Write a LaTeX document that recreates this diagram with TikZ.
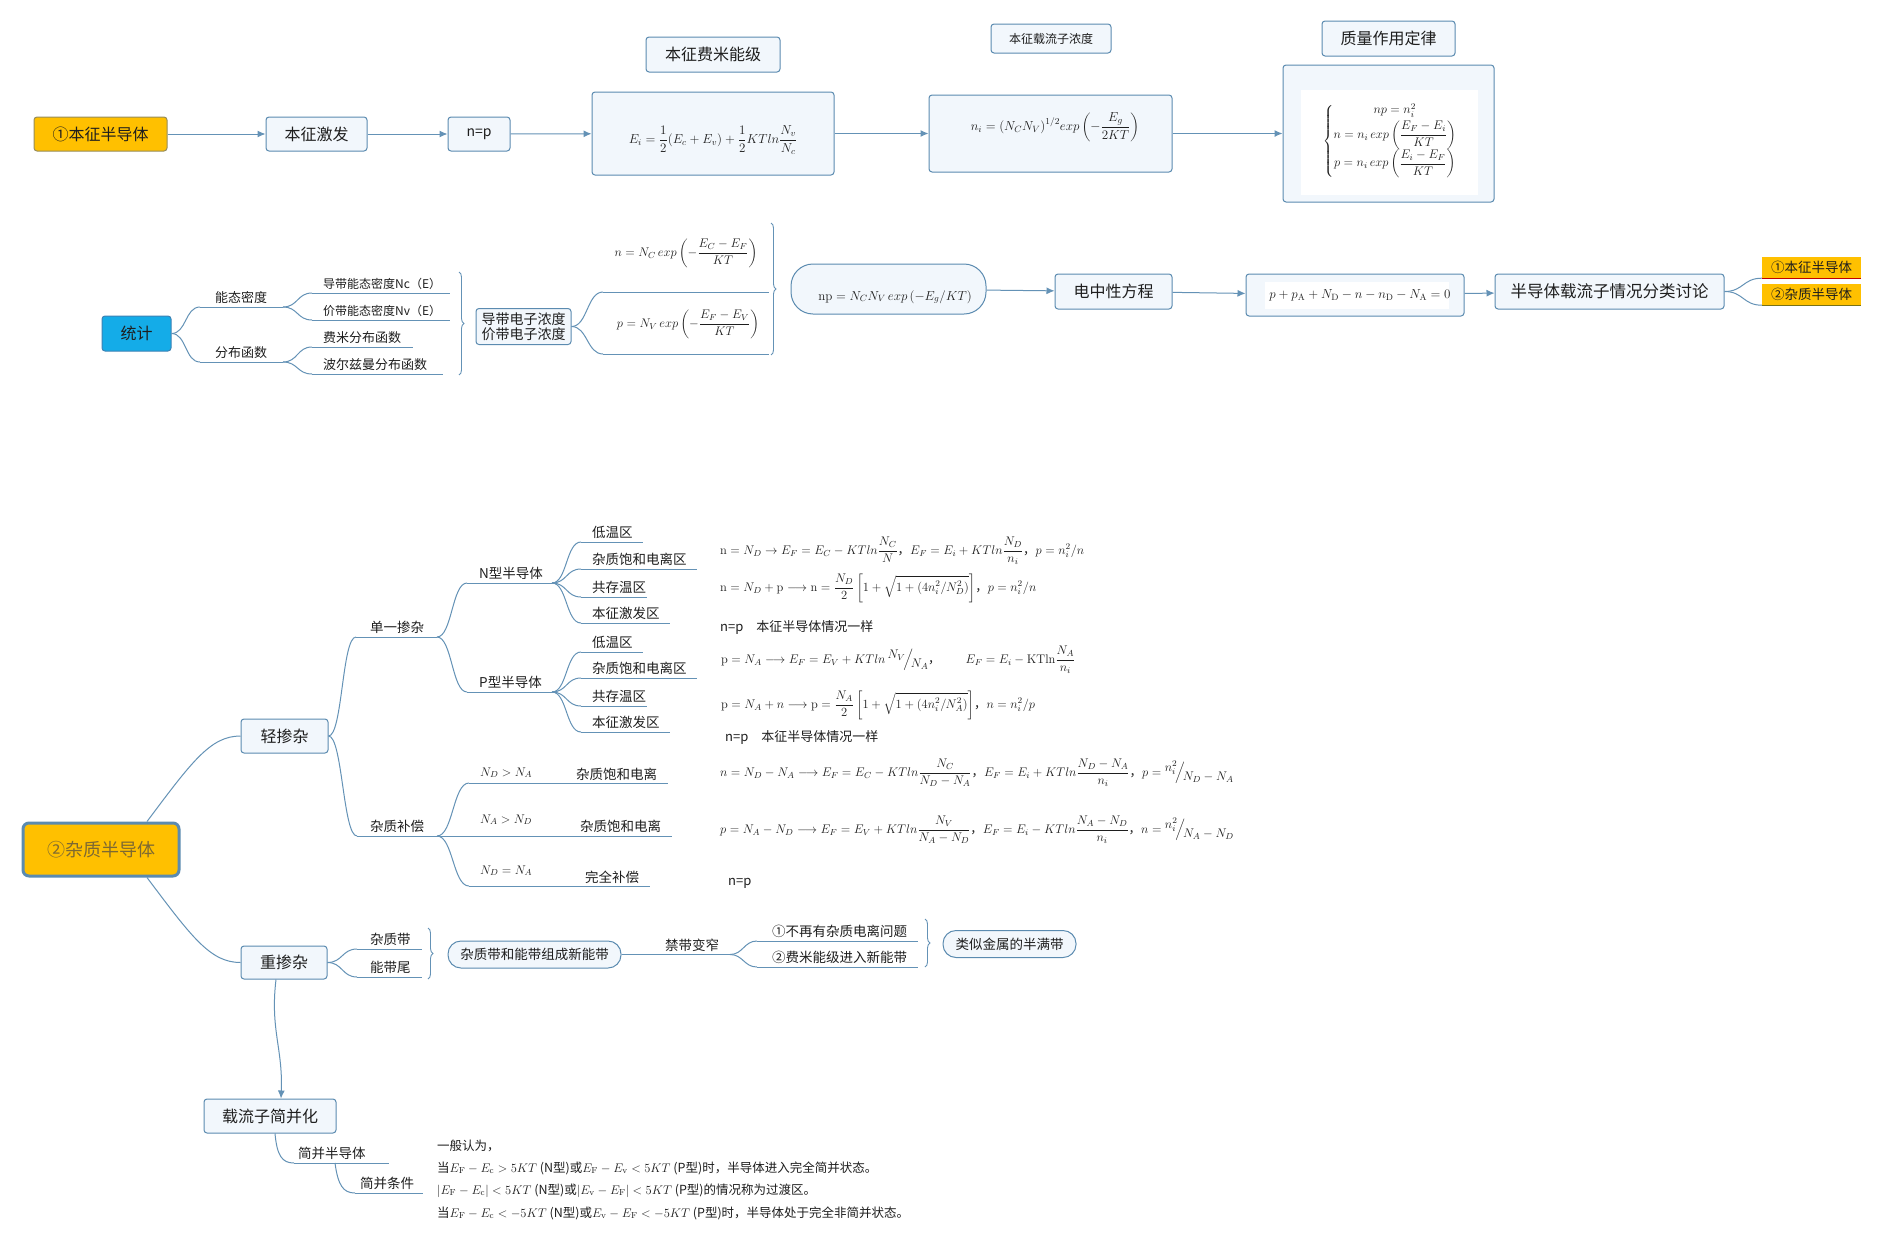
\RequirePackage{fix-cm}
\documentclass[tikz,border=0pt]{standalone}
\usepackage{amsmath}
\usepackage[no-math]{fontspec}
\setmainfont{Noto Sans CJK SC}
\usetikzlibrary{arrows.meta,decorations.pathreplacing}
\definecolor{bord}{RGB}{91,139,176}
\definecolor{boxfill}{RGB}{242,247,252}
\definecolor{linec}{RGB}{100,146,182}
\definecolor{orng}{RGB}{255,192,0}
\definecolor{orngbd}{RGB}{150,140,90}
\definecolor{cyanb}{RGB}{20,172,232}
\definecolor{cyanbd}{RGB}{60,130,180}
\definecolor{txt}{RGB}{30,30,30}
\definecolor{zhtxt}{RGB}{125,105,50}
\newcommand\fsz[1]{\fontsize{#1}{#1}\selectfont}
\newcommand\slfr[2]{\raisebox{5pt}{$#1$}\!\Big/\!\raisebox{-4pt}{$#2$}}
\tikzset{
  box/.style={draw=bord, fill=boxfill, line width=1pt, rounded corners=3pt, inner sep=0pt, text=txt},
  conn/.style={draw=linec, line width=1pt},
  arr/.style={conn, -{Latex[length=8pt,width=7pt]}},
  lbl/.style={inner sep=0pt, text=txt},
  brc/.style={draw=linec, line width=0.9pt, decorate, decoration={brace, amplitude=5pt}},
}
\newcommand\ulb[7]{%
  \coordinate (#1s) at (#2,#4);
  \coordinate (#1e) at (#3,#4);
  \node[lbl,anchor=base west,font=\fsz{#6}] (#1) at (#5,#4-5) {#7};
  \draw[conn] (#1s) -- (#1e);}
\newcommand\scrv[3]{\draw[conn] (#1) .. controls +(#3,0) and +(-#3,0) .. (#2);}
\begin{document}
\begin{tikzpicture}[x=1pt,y=-1pt]
\fill[white] (0,0) rectangle (1881,1245);
\useasboundingbox (0,0) rectangle (1881,1245);

% ---------- top row ----------
\node[box, draw=orngbd, fill=orng, minimum width=133pt, minimum height=34pt] (t1) at (100.5,134) {\fsz{16}①本征半导体};
\node[box, minimum width=101pt, minimum height=34pt] (t2) at (316.5,134) {\fsz{16}本征激发};
\node[box, minimum width=62pt, minimum height=34pt] (t3) at (479,134) {\fsz{14}n=p};
\node[box, minimum width=242pt, minimum height=83pt] (t4) at (713,133.5) {};
\node[lbl] (t4f) at (713,140) {\fsz{13}$\displaystyle E_i=\frac{1}{2}(E_c+E_v)+\frac{1}{2}KTln\frac{N_v}{N_c}$};
\node[box, minimum width=134pt, minimum height=35pt] (t4l) at (713,54.5) {\fsz{16}本征费米能级};
\node[box, minimum width=243pt, minimum height=77pt] (t5) at (1050.5,133.5) {};
\node[lbl] (t5f) at (1055,127) {\fsz{13}$\displaystyle n_i=(N_CN_V)^{1/2}exp\left(-\frac{E_g}{2KT}\right)$};
\node[box, minimum width=120pt, minimum height=29pt] (t5l) at (1051,38.5) {\fsz{12}本征载流子浓度};
\node[box, minimum width=211pt, minimum height=137pt] (t6) at (1388.5,133.5) {};
\node[fill=white, inner sep=0pt, minimum width=177pt, minimum height=105pt] (t6i) at (1389.5,142.5) {};
\node[lbl] (t6f) at (1390,141) {\fsz{12.5}$\displaystyle\left\{\begin{array}{@{}c@{}} np=n_i^2\\[3pt] n=n_i\,exp\left(\dfrac{E_F-E_i}{KT}\right)\\[3pt] p=n_i\,exp\left(\dfrac{E_i-E_F}{KT}\right)\end{array}\right.$};
\node[box, minimum width=133pt, minimum height=35pt] (t6l) at (1388.5,38.5) {\fsz{16}质量作用定律};
\draw[arr] (t1) -- (t2);
\draw[arr] (t2) -- (t3);
\draw[arr] (t3) -- (t4);
\draw[arr] (t4) -- (t5);
\draw[arr] (t5) -- (t6);

% ---------- second row ----------
\node[box, draw=cyanbd, fill=cyanb, minimum width=69pt, minimum height=35pt] (s1) at (136.5,333.5) {\fsz{16}统计};
\ulb{nd}{200}{283}{307}{215}{13}{能态密度}
\ulb{fb}{200}{283}{362}{215}{13}{分布函数}
\ulb{dd}{312}{450}{293}{323}{12}{导带能态密度Nc（E）}
\ulb{jd}{312}{450}{320}{323}{12}{价带能态密度Nv（E）}
\ulb{fm}{312}{413}{347}{323}{13}{费米分布函数}
\ulb{bz}{312}{443}{374}{323}{13}{波尔兹曼分布函数}
\scrv{s1.east}{nds}{15}
\scrv{s1.east}{fbs}{15}
\scrv{nde}{dds}{15}
\scrv{nde}{jds}{15}
\scrv{fbe}{fms}{15}
\scrv{fbe}{bzs}{15}
\draw[brc] (459,272) -- (459,375);
\node[box, align=center, font=\fontsize{14}{15.5}\selectfont, minimum width=95pt, minimum height=36pt] (s2) at (523.5,326.5) {导带电子浓度\\价带电子浓度};
\coordinate (nfs) at (603,292); \coordinate (nfe) at (769,292);
\coordinate (pfs) at (603,354); \coordinate (pfe) at (769,354);
\draw[conn] (nfs) -- (nfe);
\draw[conn] (pfs) -- (pfe);
\scrv{s2.east}{nfs}{16}
\scrv{s2.east}{pfs}{16}
\node[lbl] (nf) at (686,253) {\fsz{12.5}$\displaystyle n=N_C\,exp\left(-\frac{E_C-E_F}{KT}\right)$};
\node[lbl] (pf) at (688,324) {\fsz{12.5}$\displaystyle p=N_V\,exp\left(-\frac{E_F-E_V}{KT}\right)$};
\draw[brc] (771,223) -- (771,355);
\node[box, rounded corners=22pt, minimum width=195pt, minimum height=50pt] (np) at (888.5,289) {};
\node[lbl] (npf) at (895,297) {\fsz{13}$\mathrm{np}=N_CN_V\,exp\left(-E_g/KT\right)$};
\node[box, minimum width=117pt, minimum height=35pt] (e1) at (1113.5,291.5) {\fsz{16}电中性方程};
\node[box, minimum width=218pt, minimum height=42pt] (e2) at (1355,295) {};
\node[fill=white, inner sep=0pt, minimum width=184pt, minimum height=27pt] (e2i) at (1357,295.5) {};
\node[lbl] (e2f) at (1360,295) {\fsz{13}$p+p_\mathrm{A}+N_\mathrm{D}-n-n_\mathrm{D}-N_\mathrm{A}=0$};
\node[box, minimum width=229pt, minimum height=35pt] (e3) at (1609.5,291.5) {\fsz{16.5}半导体载流子情况分类讨论};
\draw[arr] (np) -- (e1);
\draw[arr] (e1) -- (e2);
\draw[arr] (e2) -- (e3);
\node[fill=orng, inner sep=0pt, minimum width=99pt, minimum height=21pt, text=txt] (o1) at (1811.5,267.5) {\fsz{13.5}①本征半导体};
\node[fill=orng, inner sep=0pt, minimum width=99pt, minimum height=21pt, text=txt] (o2) at (1811.5,294.5) {\fsz{13.5}②杂质半导体};
\draw[red!75!black, line width=1.3pt] (o1.south west) -- (o1.south east);
\draw[olive!80!black, line width=1.3pt] (o2.south west) -- (o2.south east);
\scrv{e3.east}{o1.south west}{19}
\scrv{e3.east}{o2.south west}{19}

% ---------- impurity semiconductor ----------
\node[box, line width=3pt, rounded corners=6pt, fill=orng, minimum width=156pt, minimum height=53pt, text=zhtxt] (m) at (101,849.5) {\fsz{18}②杂质半导体};
\node[box, minimum width=87pt, minimum height=34pt] (q) at (284.5,736) {\fsz{16}轻掺杂};
\node[box, minimum width=86pt, minimum height=33pt] (h) at (284,962.5) {\fsz{16}重掺杂};
\draw[conn] ([xshift=46pt]m.north) .. controls +(45,-60) and +(-30,0) .. (q.west);
\draw[conn] ([xshift=46pt]m.south) .. controls +(45,60) and +(-30,0) .. (h.west);

\ulb{dy}{356}{437}{637}{370}{13.5}{单一掺杂}
\ulb{bc}{357}{437}{836}{370}{13.5}{杂质补偿}
\scrv{q.east}{dys}{14}
\scrv{q.east}{bcs}{14}
\ulb{nx}{467}{552}{583}{479}{13.5}{N型半导体}
\ulb{px}{467}{552}{692}{479}{13.5}{P型半导体}
\scrv{dye}{nxs}{15}
\scrv{dye}{pxs}{15}
\ulb{na}{581}{643}{542}{592}{13.5}{低温区}
\ulb{nb}{581}{697}{569}{592}{13.5}{杂质饱和电离区}
\ulb{nc}{581}{647}{597}{592}{13.5}{共存温区}
\ulb{ne}{581}{670}{623}{592}{13.5}{本征激发区}
\ulb{pa}{581}{643}{652}{592}{13.5}{低温区}
\ulb{pb}{581}{697}{678}{592}{13.5}{杂质饱和电离区}
\ulb{pc}{581}{647}{706}{592}{13.5}{共存温区}
\ulb{pe}{581}{670}{732}{592}{13.5}{本征激发区}
\scrv{nxe}{nas}{15}
\scrv{nxe}{nbs}{15}
\scrv{nxe}{ncs}{15}
\scrv{nxe}{nes}{15}
\scrv{pxe}{pas}{15}
\scrv{pxe}{pbs}{15}
\scrv{pxe}{pcs}{15}
\scrv{pxe}{pes}{15}

% formulas
\node[lbl, anchor=west] (L1) at (720,551) {\fsz{12.5}$\displaystyle \mathrm{n}=N_D\rightarrow E_F=E_C-KTln\frac{N_C}{N}$，$\displaystyle E_F=E_i+KTln\frac{N_D}{n_i}$，$p=n_i^2/n$};
\node[lbl, anchor=west] (L2) at (720,588) {\fsz{12.5}$\displaystyle \mathrm{n}=N_D+\mathrm{p}\longrightarrow\mathrm{n}=\frac{N_D}{2}\left[1+\sqrt{1+(4n_i^2/N_D^2)}\right]$，$p=n_i^2/n$};
\node[lbl, anchor=west] (L3) at (720,627) {\fsz{13}n=p\quad 本征半导体情况一样};
\node[lbl, anchor=west] (L4) at (721,660) {\fsz{12.5}$\displaystyle \mathrm{p}=N_A\longrightarrow E_F=E_V+KTln\,\slfr{N_V}{N_A}$，\qquad$\displaystyle E_F=E_i-\mathrm{KTln}\frac{N_A}{n_i}$};
\node[lbl, anchor=west] (L5) at (721,705) {\fsz{12.5}$\displaystyle \mathrm{p}=N_A+n\longrightarrow\mathrm{p}=\frac{N_A}{2}\left[1+\sqrt{1+(4n_i^2/N_A^2)}\right]$，$n=n_i^2/p$};
\node[lbl, anchor=west] (L6) at (725,737) {\fsz{13}n=p\quad 本征半导体情况一样};
\node[lbl, anchor=west] (L7) at (720,773) {\fsz{12.5}$\displaystyle n=N_D-N_A\longrightarrow E_F=E_C-KTln\frac{N_C}{N_D-N_A}$，$\displaystyle E_F=E_i+KTln\frac{N_D-N_A}{n_i}$，$\displaystyle p=\slfr{n_i^2}{N_D-N_A}$};
\node[lbl, anchor=west] (L8) at (720,830) {\fsz{12.5}$\displaystyle p=N_A-N_D\longrightarrow E_F=E_V+KTln\frac{N_V}{N_A-N_D}$，$\displaystyle E_F=E_i-KTln\frac{N_A-N_D}{n_i}$，$\displaystyle n=\slfr{n_i^2}{N_A-N_D}$};
\node[lbl, anchor=west] (L9) at (728,883) {\fsz{13}n=p};

% compensation
\coordinate (k1s) at (469,783); \coordinate (k1e) at (668,783);
\draw[conn] (k1s) -- (k1e);
\node[lbl,anchor=base west] (k1) at (480,776) {\fsz{12.5}$N_D>N_A$};
\node[lbl,anchor=base west] (k1t) at (576,779) {\fsz{13.5}杂质饱和电离};
\coordinate (k2e) at (672,836);
\draw[conn] (bce) -- (k2e);
\node[lbl,anchor=base west] (k2) at (480,823) {\fsz{12.5}$N_A>N_D$};
\node[lbl,anchor=base west] (k2t) at (580,831) {\fsz{13.5}杂质饱和电离};
\coordinate (k3s) at (469,886); \coordinate (k3e) at (650,886);
\draw[conn] (k3s) -- (k3e);
\node[lbl,anchor=base west] (k3) at (480,874) {\fsz{12.5}$N_D=N_A$};
\node[lbl,anchor=base west] (k3t) at (585,882) {\fsz{13.5}完全补偿};
\scrv{bce}{k1s}{16}
\scrv{bce}{k3s}{16}

% heavy doping
\ulb{zd}{357}{422}{949}{370}{13.5}{杂质带}
\ulb{nw}{357}{422}{977}{370}{13.5}{能带尾}
\scrv{h.east}{zds}{15}
\scrv{h.east}{nws}{15}
\draw[brc] (428,928) -- (428,979);
\node[box, rounded corners=13pt, minimum width=173pt, minimum height=27pt] (p1) at (534.5,954.5) {\fsz{13.5}杂质带和能带组成新能带};
\coordinate (jze) at (730,954.5);
\draw[conn] (p1.east) -- (jze);
\node[lbl,anchor=base west] (jz) at (665,950) {\fsz{13.5}禁带变窄};
\ulb{ca}{757}{918}{941}{772}{13.5}{①不再有杂质电离问题}
\ulb{cb}{757}{918}{967}{772}{13.5}{②费米能级进入新能带}
\scrv{jze}{cas}{13}
\scrv{jze}{cbs}{13}
\draw[brc] (925,919) -- (925,967);
\node[box, rounded corners=13pt, minimum width=133pt, minimum height=27pt] (p2) at (1009.5,944) {\fsz{13.5}类似金属的半满带};

% degeneracy
\node[box, minimum width=132pt, minimum height=34pt] (cs) at (270,1116) {\fsz{16}载流子简并化};
\draw[arr] ([xshift=-8pt]h.south) .. controls +(-6,50) and +(2,-50) .. ([xshift=11pt]cs.north);
\ulb{jb}{294}{389}{1163}{298}{13.5}{简并半导体}
\ulb{jt}{355}{423}{1193}{360}{13.5}{简并条件}
\draw[conn] ([xshift=5pt]cs.south) .. controls +(2,22) and +(-12,0) .. (jbs);
\coordinate (jbm) at (335,1163);
\draw[conn] (jbm) .. controls +(3,22) and +(-12,0) .. (jts);
\node[lbl,anchor=base west] (b1) at (437,1150) {\fsz{12.5}一般认为，};
\node[lbl,anchor=base west] (b2) at (437,1172) {\fsz{12.5}当$E_\mathrm{F}-E_\mathrm{c}>5KT$ (N型)或$E_\mathrm{F}-E_\mathrm{v}<5KT$ (P型)时，半导体进入完全简并状态。};
\node[lbl,anchor=base west] (b3) at (437,1194) {\fsz{12.5}$\left|E_\mathrm{F}-E_\mathrm{c}\right|<5KT$ (N型)或$\left|E_\mathrm{v}-E_\mathrm{F}\right|<5KT$ (P型)的情况称为过渡区。};
\node[lbl,anchor=base west] (b4) at (437,1217) {\fsz{12.5}当$E_\mathrm{F}-E_\mathrm{c}<-5KT$ (N型)或$E_\mathrm{v}-E_\mathrm{F}<-5KT$ (P型)时，半导体处于完全非简并状态。};
\end{tikzpicture}
\end{document}
